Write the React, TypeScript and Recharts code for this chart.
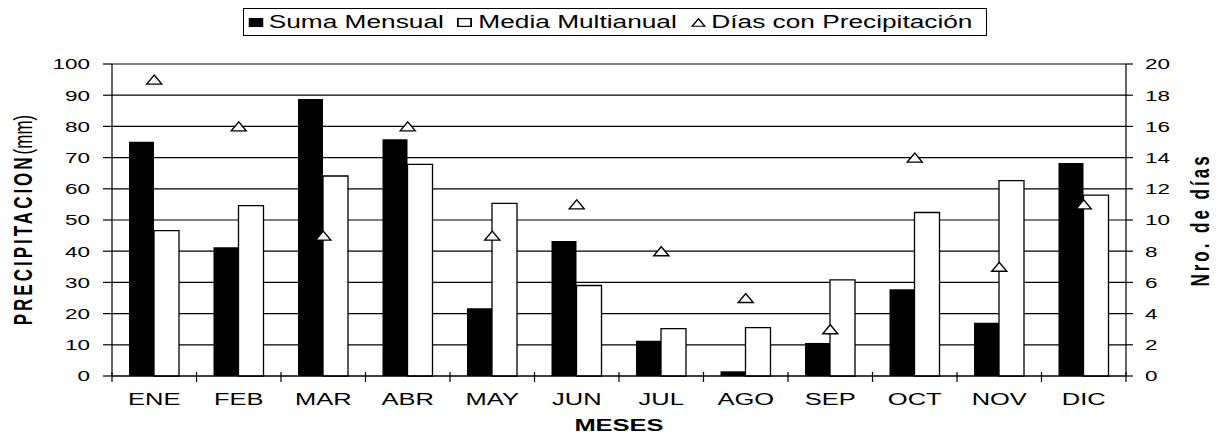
import React from "react";
import { Bar, CartesianGrid, ComposedChart, Line, XAxis, YAxis } from "recharts";

const MESES = ["ENE", "FEB", "MAR", "ABR", "MAY", "JUN", "JUL", "AGO", "SEP", "OCT", "NOV", "DIC"];
const SUMA_MENSUAL = [75.1, 41.3, 88.8, 75.9, 21.7, 43.3, 11.3, 1.5, 10.6, 27.8, 17.1, 68.3];
const MEDIA_MULTIANUAL = [46.6, 54.6, 64.1, 67.8, 55.3, 29.0, 15.2, 15.5, 30.8, 52.4, 62.6, 58.0];
const DIAS_PRECIP = [19, 16, 9, 16, 9, 11, 8, 5, 3, 14, 7, 11];
const MM_TICKS = [0, 10, 20, 30, 40, 50, 60, 70, 80, 90, 100];
const DIAS_TICKS = [0, 2, 4, 6, 8, 10, 12, 14, 16, 18, 20];

const FONT = '"Liberation Sans", Arial, sans-serif';
// the original picture is stretched sideways, so text is too
const SX = 1.5;

const data = MESES.map((mes, i) => ({
  mes,
  suma: SUMA_MENSUAL[i],
  media: MEDIA_MULTIANUAL[i],
  dias: DIAS_PRECIP[i],
}));

const MonthTick = (props: any) => {
  const { x, y, payload, index, visibleTicksCount, width } = props;
  const half = payload.offset ?? width / visibleTicksCount / 2;
  return (
    <g>
      <line x1={x - half} x2={x - half} y1={y - 4} y2={y + 6} stroke="#000" strokeWidth={1.2} />
      {index === visibleTicksCount - 1 && (
        <line x1={x + half} x2={x + half} y1={y - 4} y2={y + 6} stroke="#000" strokeWidth={1.2} />
      )}
      <text
        transform={`translate(${x},${y + 29}) scale(${SX},1)`}
        textAnchor="middle"
        fontSize={17}
        fontFamily={FONT}
        fill="#000"
      >
        {payload.value}
      </text>
    </g>
  );
};

const makeValueTick = (anchor: "start" | "end") => (props: any) => {
  const { x, y, payload } = props;
  return (
    <text
      transform={`translate(${x},${y}) scale(${SX},1)`}
      textAnchor={anchor}
      dy="0.36em"
      fontSize={15}
      fontFamily={FONT}
      fill="#000"
    >
      {payload.value}
    </text>
  );
};

const renderTriangle = (props: any) => {
  const { cx, cy, index } = props;
  if (cx == null || cy == null) return <g key={index} />;
  return (
    <path
      key={index}
      d={`M${cx - 7.5},${cy + 4.5} L${cx + 7.5},${cy + 4.5} L${cx},${cy - 4.5} Z`}
      fill="#fff"
      stroke="#000"
      strokeWidth={1.4}
    />
  );
};

const LeftTitle = (props: any) => {
  const { x, y, height } = props.viewBox;
  return (
    <text
      transform={`translate(${x + 23},${y + height / 2}) scale(${SX},1) rotate(-90)`}
      textAnchor="middle"
      dominantBaseline="central"
      fontSize={17}
      fontFamily={FONT}
      fill="#000"
    >
      <tspan fontWeight="bold" letterSpacing={3}>PRECIPITACION</tspan>
      <tspan>(mm)</tspan>
    </text>
  );
};

const RightTitle = (props: any) => {
  const { x, y, height } = props.viewBox;
  return (
    <text
      transform={`translate(${x + 74},${y + height / 2}) scale(${SX},1) rotate(-90)`}
      textAnchor="middle"
      dominantBaseline="central"
      fontSize={17}
      fontWeight="bold"
      letterSpacing={3}
      fontFamily={FONT}
      fill="#000"
    >
      Nro. de días
    </text>
  );
};

const XTitle = (props: any) => {
  const { x, y, width } = props.viewBox;
  return (
    <text
      transform={`translate(${x + width / 2},${y + 55}) scale(${SX},1)`}
      textAnchor="middle"
      fontSize={17}
      fontWeight="bold"
      fontFamily={FONT}
      fill="#000"
    >
      MESES
    </text>
  );
};

const LegendBox = () => (
  <div
    style={{
      position: "absolute",
      left: 243,
      top: 8,
      width: 744,
      height: 28,
      boxSizing: "border-box",
      border: "1.5px solid #000",
      background: "#fff",
    }}
  >
    <div
      style={{
        display: "flex",
        alignItems: "center",
        height: "100%",
        paddingLeft: 2.5,
        transform: `scaleX(${SX})`,
        transformOrigin: "0 50%",
        fontFamily: FONT,
        fontSize: 17.5,
        whiteSpace: "nowrap",
        color: "#000",
      }}
    >
      <svg width={10} height={9}>
        <rect x={0} y={0} width={10} height={9} fill="#000" />
      </svg>
      <span style={{ marginLeft: 4, marginRight: 9 }}>Suma Mensual</span>
      <svg width={10} height={9}>
        <rect x={0.6} y={0.6} width={8.8} height={7.8} fill="#fff" stroke="#000" strokeWidth={1.2} />
      </svg>
      <span style={{ marginLeft: 4, marginRight: 9 }}>Media Multianual</span>
      <svg width={10} height={9}>
        <path d="M0.8,8.2 L9.2,8.2 L5,0.8 Z" fill="#fff" stroke="#000" strokeWidth={1.1} />
      </svg>
      <span style={{ marginLeft: 4 }}>Días con Precipitación</span>
    </div>
  </div>
);

export default function App() {
  return (
    <div style={{ position: "absolute", left: 0, top: 0, width: 1216, height: 434, background: "#fff" }}>
      <ComposedChart
        width={1216}
        height={434}
        data={data}
        margin={{ top: 64, right: 0, bottom: 0, left: 0 }}
        barGap={0}
      >
        <CartesianGrid vertical={false} stroke="#000" strokeWidth={1.2} yAxisId="mm" />
        <XAxis
          dataKey="mes"
          height={58}
          axisLine={{ stroke: "#000", strokeWidth: 1.2 }}
          tickLine={false}
          tickSize={0}
          tickMargin={0}
          tick={<MonthTick />}
          interval={0}
          label={{ content: <XTitle /> }}
        />
        <YAxis
          yAxisId="mm"
          width={112}
          domain={[0, 100]}
          ticks={MM_TICKS}
          interval={0}
          axisLine={{ stroke: "#000", strokeWidth: 1.2 }}
          tickLine={{ stroke: "#000", strokeWidth: 1.2 }}
          tickSize={9}
          tickMargin={13}
          tick={makeValueTick("end")}
          label={{ content: <LeftTitle /> }}
        />
        <YAxis
          yAxisId="dias"
          orientation="right"
          width={90}
          domain={[0, 20]}
          ticks={DIAS_TICKS}
          interval={0}
          axisLine={{ stroke: "#000", strokeWidth: 1.2 }}
          tickLine={{ stroke: "#000", strokeWidth: 1.2 }}
          tickSize={7}
          tickMargin={12}
          tick={makeValueTick("start")}
          label={{ content: <RightTitle /> }}
        />
        <Bar yAxisId="mm" dataKey="suma" name="Suma Mensual" fill="#000" barSize={25} isAnimationActive={false} />
        <Bar
          yAxisId="mm"
          dataKey="media"
          name="Media Multianual"
          fill="#fff"
          stroke="#000"
          strokeWidth={1.3}
          barSize={25}
          isAnimationActive={false}
        />
        <Line
          yAxisId="dias"
          dataKey="dias"
          name="Días con Precipitación"
          stroke="none"
          dot={renderTriangle}
          activeDot={false}
          isAnimationActive={false}
        />
      </ComposedChart>
      <LegendBox />
    </div>
  );
}
